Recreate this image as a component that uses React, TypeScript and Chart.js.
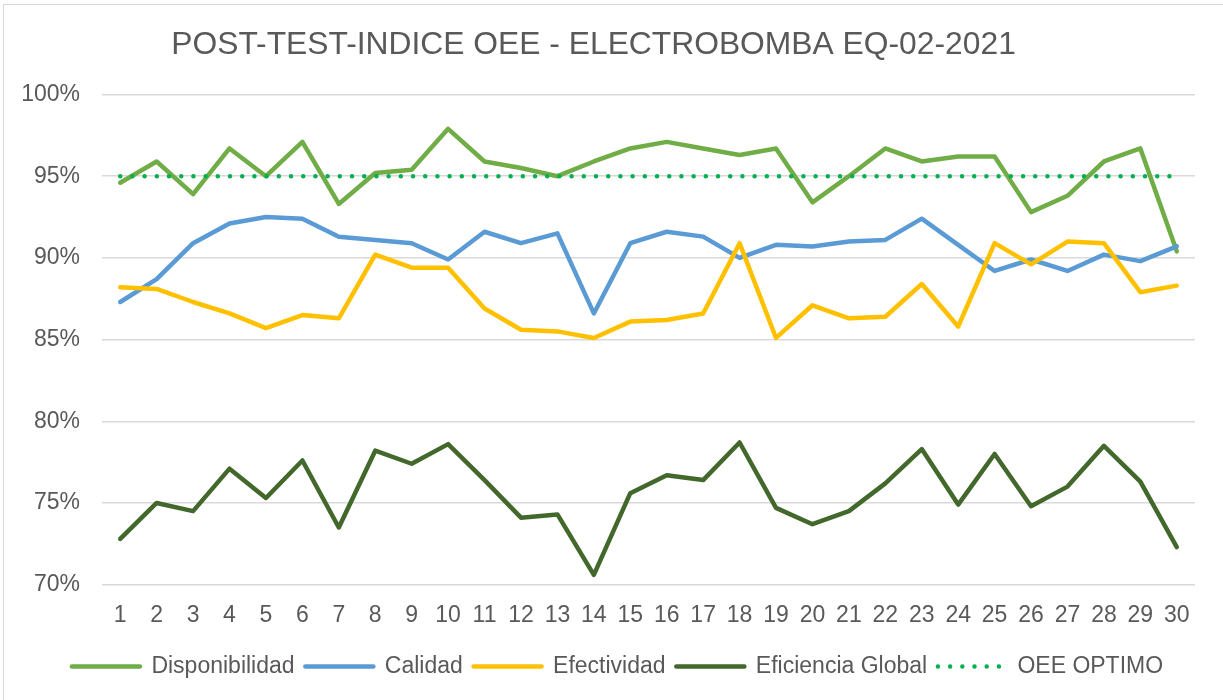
import React, { useEffect, useRef } from 'react';
import { Chart, registerables } from 'chart.js';

Chart.register(...registerables);

const TITLE = 'POST-TEST-INDICE OEE - ELECTROBOMBA EQ-02-2021';

const categories = ['1', '2', '3', '4', '5', '6', '7', '8', '9', '10', '11', '12', '13', '14', '15', '16', '17', '18', '19', '20', '21', '22', '23', '24', '25', '26', '27', '28', '29', '30'];

const disponibilidad = [94.6, 95.9, 93.9, 96.7, 95.0, 97.1, 93.3, 95.2, 95.4, 97.9, 95.9, 95.5, 95.0, 95.9, 96.7, 97.1, 96.7, 96.3, 96.7, 93.4, 95.0, 96.7, 95.9, 96.2, 96.2, 92.8, 93.8, 95.9, 96.7, 90.4];
const calidad = [87.3, 88.7, 90.9, 92.1, 92.5, 92.4, 91.3, 91.1, 90.9, 89.9, 91.6, 90.9, 91.5, 86.6, 90.9, 91.6, 91.3, 90.0, 90.8, 90.7, 91.0, 91.1, 92.4, 90.8, 89.2, 89.9, 89.2, 90.2, 89.8, 90.7];
const efectividad = [88.2, 88.1, 87.3, 86.6, 85.7, 86.5, 86.3, 90.2, 89.4, 89.4, 86.9, 85.6, 85.5, 85.1, 86.1, 86.2, 86.6, 90.9, 85.1, 87.1, 86.3, 86.4, 88.4, 85.8, 90.9, 89.6, 91.0, 90.9, 87.9, 88.3];
const eficienciaGlobal = [72.8, 75.0, 74.5, 77.1, 75.3, 77.6, 73.5, 78.2, 77.4, 78.6, 76.4, 74.1, 74.3, 70.6, 75.6, 76.7, 76.4, 78.7, 74.7, 73.7, 74.5, 76.2, 78.3, 74.9, 78.0, 74.8, 76.0, 78.5, 76.3, 72.3];
const oeeOptimo = [95, 95, 95, 95, 95, 95, 95, 95, 95, 95, 95, 95, 95, 95, 95, 95, 95, 95, 95, 95, 95, 95, 95, 95, 95, 95, 95, 95, 95, 95];

const Y_MIN = 70;
const Y_MAX = 100;
const Y_STEP = 5;

const FONT = "'Liberation Sans', Arial, Helvetica, sans-serif";
const TEXT_COLOR = '#595959';

const titlePlugin = {
  id: 'customTitle',
  afterLayout(chart: any) {
    // nudge the legend row slightly right, as in the reference
    const lg = chart.legend;
    if (lg) {
      lg.left += 9.5;
      lg.right += 9.5;
    }
  },
  afterDraw(chart: any) {
    const { ctx } = chart;
    ctx.save();
    ctx.font = `31.8px ${FONT}`;
    ctx.fillStyle = TEXT_COLOR;
    ctx.textAlign = 'center';
    ctx.textBaseline = 'alphabetic';
    ctx.fillText(TITLE, chart.width * 0.4853, 54);
    ctx.restore();
  },
};

function lineDs(label: string, data: number[], color: string, order: number, extra: any = {}) {
  return {
    label,
    data,
    borderColor: color,
    backgroundColor: color,
    borderWidth: 4.5,
    pointRadius: 0,
    pointHoverRadius: 0,
    pointStyle: 'line',
    tension: 0,
    fill: false,
    borderCapStyle: 'round',
    borderJoinStyle: 'round',
    order,
    ...extra,
  };
}

export default function App() {
  const ref = useRef<HTMLCanvasElement>(null);

  useEffect(() => {
    const canvas = ref.current;
    if (!canvas) return;
    Chart.defaults.font.family = FONT;
    const baseGen = (Chart.defaults.plugins.legend.labels as any).generateLabels;
    const chart = new Chart(canvas, {
      type: 'line',
      data: {
        labels: categories,
        datasets: [
          lineDs('Disponibilidad', disponibilidad, '#70AD47', 4),
          lineDs('Calidad', calidad, '#5B9BD5', 3),
          lineDs('Efectividad', efectividad, '#FFC000', 2),
          lineDs('Eficiencia Global', eficienciaGlobal, '#43682B', 1),
          lineDs('OEE OPTIMO', oeeOptimo, '#00B050', 0, { borderDash: [0, 12.2] }),
        ] as any,
      },
      options: {
        animation: false,
        responsive: false,
        devicePixelRatio: 1,
        layout: { padding: { top: 94.5, left: 21, right: 28, bottom: 12 } },
        scales: {
          x: {
            offset: true,
            grid: { display: false },
            border: { display: false },
            ticks: {
              color: TEXT_COLOR,
              font: { size: 23, family: FONT },
              padding: 9,
              maxRotation: 0,
              autoSkip: false,
            },
            afterFit: (s: any) => {
              s.height += 6;
            },
          },
          y: {
            min: Y_MIN,
            max: Y_MAX,
            grid: { color: '#D9D9D9', lineWidth: 1.5, drawTicks: false },
            border: { display: false },
            ticks: {
              stepSize: Y_STEP,
              padding: 22,
              color: TEXT_COLOR,
              font: { size: 23, family: FONT },
              callback: (v: any) => `${v}%`,
            },
            afterFit: (s: any) => {
              s.width = 81;
            },
          },
        },
        plugins: {
          legend: {
            position: 'bottom',
            reverse: true,
            labels: {
              usePointStyle: true,
              pointStyle: 'line',
              pointStyleWidth: 68,
              padding: 10.75,
              color: TEXT_COLOR,
              font: { size: 23, family: FONT },
              generateLabels: (ch: any) => {
                const items = baseGen(ch);
                return items.map((it: any) => {
                  const ds = ch.data.datasets[it.datasetIndex];
                  return {
                    ...it,
                    strokeStyle: ds.borderColor,
                    fillStyle: ds.borderColor,
                    lineWidth: ds.borderWidth,
                    lineDash: ds.borderDash || [],
                    lineCap: 'round',
                    pointStyle: 'line',
                  };
                });
              },
            },
          },
          title: { display: false },
          tooltip: { enabled: false },
        },
      } as any,
      plugins: [titlePlugin],
    });
    return () => chart.destroy();
  }, []);

  return (
    <div style={{ position: 'absolute', left: 0, top: 0, width: 1223, height: 700, overflow: 'hidden', background: '#fff' }}>
      <div style={{ position: 'absolute', left: 3, top: 4, width: 1260, height: 760, border: '1px solid #D9D9D9', boxSizing: 'border-box' }} />
      <canvas ref={ref} width={1223} height={700} style={{ position: 'absolute', left: 0, top: 0, width: 1223, height: 700 }} />
    </div>
  );
}
